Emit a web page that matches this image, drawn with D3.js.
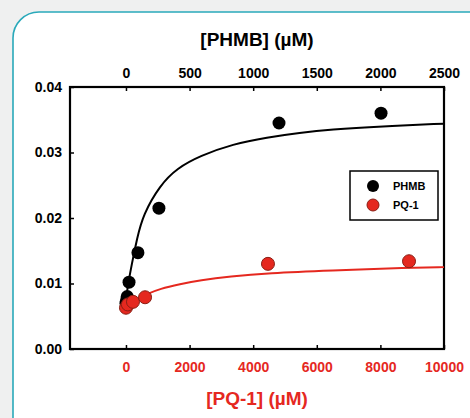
<!DOCTYPE html>
<meta charset="utf-8">
<script src="https://d3js.org/d3.v7.min.js"></script>
<style>
body { margin: 0; background: #eff0f0; }
svg { display: block; }
.axis text { font-family: "Liberation Sans", Arial, sans-serif; font-weight: bold; font-size: 14px; }
.axis path { display: none; }
.axis line { stroke: #000; stroke-width: 1.5px; }
.title { font-family: "Liberation Sans", Arial, sans-serif; font-weight: bold; font-size: 19px; text-anchor: middle; }
.legendText { font-family: "Liberation Sans", Arial, sans-serif; font-weight: bold; font-size: 11px; }
</style>
<body></body>
<script>
// PHMB measured points (uM, rate)
const phmbX = [0, 5, 10, 24, 94, 259, 1203, 2005];
const phmbY = [0.0070, 0.0075, 0.0080, 0.0102, 0.0147, 0.0215, 0.0345, 0.0360];
// PQ-1 measured points (uM, rate)
const pqX = [0, 60, 220, 600, 4465, 8900];
const pqY = [0.0063, 0.0068, 0.0072, 0.0079, 0.0130, 0.0134];
// fitted curves
const phmbFitX = [0, 8, 47, 86, 134, 267, 401, 582, 841, 1109, 1368, 1604, 2005, 2500];
const phmbFitY = [0.0072, 0.0090, 0.0131, 0.0168, 0.0205, 0.0250, 0.0276, 0.0295, 0.0313, 0.0323, 0.0330, 0.0335, 0.0340, 0.0344];
const pqFitX = [0, 283, 660, 1069, 1698, 2327, 3270, 4465, 6415, 8900, 10000];
const pqFitY = [0.0066, 0.0075, 0.0084, 0.0092, 0.0099, 0.0105, 0.0111, 0.0116, 0.0120, 0.0124, 0.0125];

const topTicks = [0, 500, 1000, 1500, 2000, 2500];
const bottomTicks = [0, 2000, 4000, 6000, 8000, 10000];
const yTicks = [0, 0.01, 0.02, 0.03, 0.04];

const width = 470, height = 418;
const box = {left: 70, right: 444, top: 87, bottom: 349};
const red = "#e5281f";

const svg = d3.select("body").append("svg")
  .attr("width", width)
  .attr("height", height);

// card
svg.append("rect")
  .attr("x", 13).attr("y", 12)
  .attr("width", 485).attr("height", 440)
  .attr("rx", 26)
  .style("fill", "#fff")
  .style("stroke", "#2aa9ba")
  .style("stroke-width", 1.6);

const xBottom = d3.scaleLinear().domain([-1760, 10000]).range([box.left, box.right]);
const xTop = d3.scaleLinear().domain([-440, 2500]).range([box.left, box.right]);
const y = d3.scaleLinear().domain([0, 0.04]).range([box.bottom, box.top]);

// axes
svg.append("g").attr("class", "axis")
  .attr("transform", "translate(0," + box.top + ")")
  .call(d3.axisTop(xTop).tickValues(topTicks).tickFormat(d3.format("d")).tickSizeInner(-4).tickSizeOuter(0).tickPadding(9))
  .selectAll("text").attr("dy", "0");

svg.append("g").attr("class", "axis")
  .attr("transform", "translate(0," + box.bottom + ")")
  .call(d3.axisBottom(xBottom).tickValues(bottomTicks).tickFormat(d3.format("d")).tickSizeInner(-4).tickSizeOuter(0).tickPadding(13))
  .selectAll("text").style("fill", red);

svg.append("g").attr("class", "axis")
  .attr("transform", "translate(" + box.left + ",0)")
  .call(d3.axisLeft(y).tickValues(yTicks).tickFormat(d3.format(".2f")).tickSizeInner(-4).tickSizeOuter(0).tickPadding(8));

// plot frame
svg.append("rect")
  .attr("x", box.left).attr("y", box.top)
  .attr("width", box.right - box.left).attr("height", box.bottom - box.top)
  .style("fill", "none").style("stroke", "#000").style("stroke-width", 2.2);

// titles
svg.append("text").attr("class", "title")
  .attr("x", 257).attr("y", 46)
  .text("[PHMB] (\u00b5M)");

svg.append("text").attr("class", "title")
  .attr("x", 257).attr("y", 405)
  .style("fill", red)
  .text("[PQ-1] (\u00b5M)");

// fitted lines
const phmbLine = d3.line()
  .x((d, i) => xTop(phmbFitX[i]))
  .y(d => y(d))
  .curve(d3.curveBasis);

const pqLine = d3.line()
  .x((d, i) => xBottom(pqFitX[i]))
  .y(d => y(d))
  .curve(d3.curveBasis);

svg.append("path")
  .attr("d", phmbLine(phmbFitY))
  .style("fill", "none").style("stroke", "#000").style("stroke-width", 2);

svg.append("path")
  .attr("d", pqLine(pqFitY))
  .style("fill", "none").style("stroke", red).style("stroke-width", 2);

// points
svg.selectAll(".phmbDot")
  .data(phmbY).enter().append("circle")
  .attr("class", "phmbDot")
  .attr("cx", (d, i) => xTop(phmbX[i]))
  .attr("cy", d => y(d))
  .attr("r", 6.5)
  .style("fill", "#000");

svg.selectAll(".pqDot")
  .data(pqY).enter().append("circle")
  .attr("class", "pqDot")
  .attr("cx", (d, i) => xBottom(pqX[i]))
  .attr("cy", d => y(d))
  .attr("r", 6.5)
  .style("fill", red)
  .style("stroke", "#8a1e14")
  .style("stroke-width", 1);

// legend
svg.append("rect")
  .attr("x", 350).attr("y", 171)
  .attr("width", 88).attr("height", 49)
  .style("fill", "#fff").style("stroke", "#000").style("stroke-width", 1.5);

svg.append("circle").attr("cx", 373).attr("cy", 186).attr("r", 6).style("fill", "#000");
svg.append("circle").attr("cx", 373).attr("cy", 205).attr("r", 6)
  .style("fill", red).style("stroke", "#8a1e14");

svg.append("text").attr("class", "legendText").attr("x", 393).attr("y", 190).text("PHMB");
svg.append("text").attr("class", "legendText").attr("x", 393).attr("y", 209).text("PQ-1");
</script>
